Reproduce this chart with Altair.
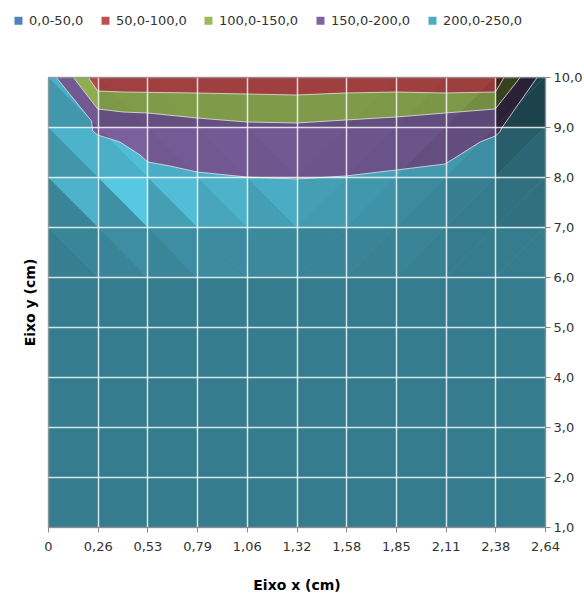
import json

import altair as alt
import pandas as pd

FONT = "DejaVu Sans"
TEXT = "#333333"
AXIS_GRAY = "#8c8c8c"

# ---- legend classes -------------------------------------------------------
ranges = ["0,0-50,0", "50,0-100,0", "100,0-150,0", "150,0-200,0", "200,0-250,0"]
legend_colors = ["#4f81bd", "#c0504d", "#9bbb59", "#8064a2", "#4bacc6"]

# ---- axes ----------------------------------------------------------------
x_tick_labels = ["0", "0,26", "0,53", "0,79", "1,06", "1,32", "1,58",
                 "1,85", "2,11", "2,38", "2,64"]
x_step = 0.264
x_max = 2.64
y_ticks = [1, 2, 3, 4, 5, 6, 7, 8, 9, 10]

# ---- contour lines (x in cm, y in cm) ------------------------------------
c200_x = [0.042, 0.231, 0.238, 0.264, 0.382, 0.489, 0.531, 0.648, 0.792,
          1.056, 1.32, 1.58, 1.85, 2.11, 2.295, 2.376, 2.40, 2.41, 2.60]
c200_y = [10.0, 9.12, 8.92, 8.84, 8.70, 8.44, 8.30, 8.22, 8.10,
          8.00, 7.96, 8.02, 8.14, 8.26, 8.70, 8.82, 8.90, 8.98, 10.0]

c150_x = [0.133, 0.264, 0.398, 0.531, 0.792, 1.056, 1.32, 1.58, 1.85,
          2.11, 2.376, 2.51]
c150_y = [10.0, 9.36, 9.30, 9.28, 9.18, 9.10, 9.08, 9.14, 9.20,
          9.28, 9.36, 10.0]

c100_x = [0.212, 0.264, 0.398, 0.792, 1.056, 1.32, 1.58, 1.85, 2.11,
          2.376, 2.424]
c100_y = [10.0, 9.72, 9.70, 9.68, 9.66, 9.64, 9.68, 9.70, 9.68,
          9.70, 10.0]

# surface colour of each band when fully lit
band_fill = {
    "50,0-100,0": "#d25454",
    "100,0-150,0": "#a7cb5f",
    "150,0-200,0": "#8568aa",
    "200,0-250,0": "#58cce8",
}

# lighting of the surface facets, rows from y=9-10 downwards,
# each cell split in two triangles: (upper, lower)
shade_rows = [
    [(0.86, 0.74), (0.77, 0.75), (0.77, 0.76), (0.76, 0.76), (0.76, 0.76),
     (0.76, 0.76), (0.76, 0.75), (0.76, 0.74), (0.75, 0.70), (0.32, 0.32)],
    [(0.88, 0.73), (0.93, 0.86), (0.88, 0.85), (0.87, 0.85), (0.86, 0.84),
     (0.84, 0.82), (0.82, 0.80), (0.80, 0.75), (0.74, 0.70), (0.46, 0.50)],
    [(0.88, 0.65), (0.98, 0.71), (0.93, 0.78), (0.88, 0.81), (0.85, 0.78),
     (0.78, 0.76), (0.74, 0.72), (0.68, 0.66), (0.62, 0.61), (0.55, 0.55)],
    [(0.66, 0.62), (0.70, 0.65), (0.70, 0.66), (0.68, 0.68), (0.67, 0.67),
     (0.65, 0.65), (0.65, 0.64), (0.65, 0.63), (0.61, 0.61), (0.61, 0.61)],
]
flat_light = 0.61  # the level part of the surface, y = 1 to 6
flat_top = 6


def band_frame(xs, ys, name):
    pts = [(0.0, 10.0)] + list(zip(xs, ys)) + [(x_max, 10.0)]
    return pd.DataFrame({"x": [p[0] for p in pts], "yt": [p[1] for p in pts],
                         "yb": 1.0, "band": name})


bands = [
    band_frame([], [], "50,0-100,0"),
    band_frame(c100_x, c100_y, "100,0-150,0"),
    band_frame(c150_x, c150_y, "150,0-200,0"),
    band_frame(c200_x, c200_y, "200,0-250,0"),
]

# shadow facets: black at opacity (1 - light)
tri = [
    {"tid": "flat", "x": 0.0, "lo": 1.0, "hi": flat_top, "alpha": 1 - flat_light},
    {"tid": "flat", "x": x_max, "lo": 1.0, "hi": flat_top, "alpha": 1 - flat_light},
]
for i, row in enumerate(shade_rows):
    y0 = 10 - (i + 1)
    y1 = 10 - i
    for c, (up, lo) in enumerate(row):
        x0, x1 = c * x_step, (c + 1) * x_step
        back = c < 5  # direction of the diagonal splitting the cell
        for part, lv in (("u", up), ("l", lo)):
            tid = f"{i}-{c}-{part}"
            if back:
                pts = [(x0, y1, y1), (x1, y0, y1)] if part == "u" else [(x0, y0, y1), (x1, y0, y0)]
            else:
                pts = [(x0, y0, y1), (x1, y1, y1)] if part == "u" else [(x0, y0, y0), (x1, y0, y1)]
            for (px, lo_y, hi_y) in pts:
                tri.append({"tid": tid, "x": px, "lo": lo_y, "hi": hi_y,
                            "alpha": round(1 - lv, 3)})
tri_df = pd.DataFrame(tri)

lines_df = pd.concat([
    pd.DataFrame({"x": c200_x, "y": c200_y, "c": "200"}),
    pd.DataFrame({"x": c150_x, "y": c150_y, "c": "150"}),
    pd.DataFrame({"x": c100_x, "y": c100_y, "c": "100"}),
])

legend_df = pd.DataFrame({"range": ranges, "x": 0.0, "y": 1.0})

xscale = alt.Scale(domain=[0, x_max], nice=False, zero=False)
yscale = alt.Scale(domain=[1, 10], nice=False, zero=False)

edge_x = "datum.value < 0.01 || datum.value > 2.63"
edge_y = "datum.value == 1 || datum.value == 10"

x_axis = alt.Axis(
    values=[round(i * x_step, 3) for i in range(len(x_tick_labels))],
    labelExpr=f"{json.dumps(x_tick_labels)}[round(datum.value / {x_step})]",
    labelFlush=False, labelOverlap=False,
    title="Eixo x (cm)", titleFont=FONT, titleFontSize=14, titleFontWeight="bold",
    titleColor="#000000", titlePadding=25,
    labelFont=FONT, labelFontSize=13, labelColor=TEXT, labelPadding=8,
    tickColor=AXIS_GRAY, tickSize=5, domainColor=AXIS_GRAY,
    grid=True, gridWidth=1.5, gridOpacity=0.8,
    gridColor={"condition": {"test": edge_x, "value": "#9a9a9a"}, "value": "#ffffff"},
    zindex=1,
)

y_axis = alt.Axis(
    orient="right", values=y_ticks, title=None,
    labelExpr="replace(format(datum.value, '.1f'), '.', ',')",
    labelFont=FONT, labelFontSize=13, labelColor=TEXT, labelPadding=3,
    tickColor=AXIS_GRAY, tickSize=5, domainColor=AXIS_GRAY,
    grid=True, gridWidth=1.5, gridOpacity=0.8,
    gridColor={"condition": {"test": edge_y, "value": "#9a9a9a"}, "value": "#ffffff"},
    zindex=1,
)

y_title_axis = alt.Axis(
    orient="left", title="Eixo y (cm)", labels=False, ticks=False, domain=False,
    grid=False, titleFont=FONT, titleFontSize=14, titleFontWeight="bold",
    titleColor="#000000", titlePadding=11,
)

X = alt.X("x:Q", scale=xscale, axis=x_axis)

layers = []
for k, df in enumerate(bands):
    name = df["band"].iloc[0]
    layers.append(
        alt.Chart(df).mark_area(color=band_fill[name]).encode(
            x=X,
            y=alt.Y("yt:Q", scale=yscale, axis=y_axis if k == 0 else None),
            y2="yb:Q",
        )
    )

shading = alt.Chart(tri_df).mark_area(color="#000000").encode(
    x=X,
    y=alt.Y("lo:Q", scale=yscale, axis=None),
    y2="hi:Q",
    opacity=alt.Opacity("alpha:Q", scale=None),
    detail="tid:N",
)

contours = alt.Chart(lines_df).mark_line(color="#e4e4e4", strokeWidth=1, opacity=0.8).encode(
    x=X,
    y=alt.Y("y:Q", scale=yscale, axis=None),
    detail="c:N",
)

legend_layer = alt.Chart(legend_df).mark_square(filled=True, opacity=0).encode(
    x=X,
    y=alt.Y("y:Q", scale=yscale, axis=y_title_axis),
    color=alt.Color(
        "range:N",
        scale=alt.Scale(domain=ranges, range=legend_colors),
        legend=alt.Legend(
            orient="none", legendX=-36, legendY=-63, direction="horizontal",
            title=None, symbolType="square", symbolSize=64, symbolOpacity=1,
            symbolStrokeWidth=0, labelFont=FONT, labelFontSize=13,
            labelColor=TEXT, labelOffset=4, columnPadding=15, padding=0,
        ),
    ),
)

chart = alt.layer(*layers, shading, contours, legend_layer).resolve_axis(
    y="independent"
).properties(
    width=497,
    height=450,
    autosize=alt.AutoSizeParams(type="none"),
    padding={"left": 48, "top": 77, "right": 39, "bottom": 69},
    background="#ffffff",
).configure_view(stroke=None)

chart.save("out.html", embed_options={"renderer": "svg", "actions": False})
